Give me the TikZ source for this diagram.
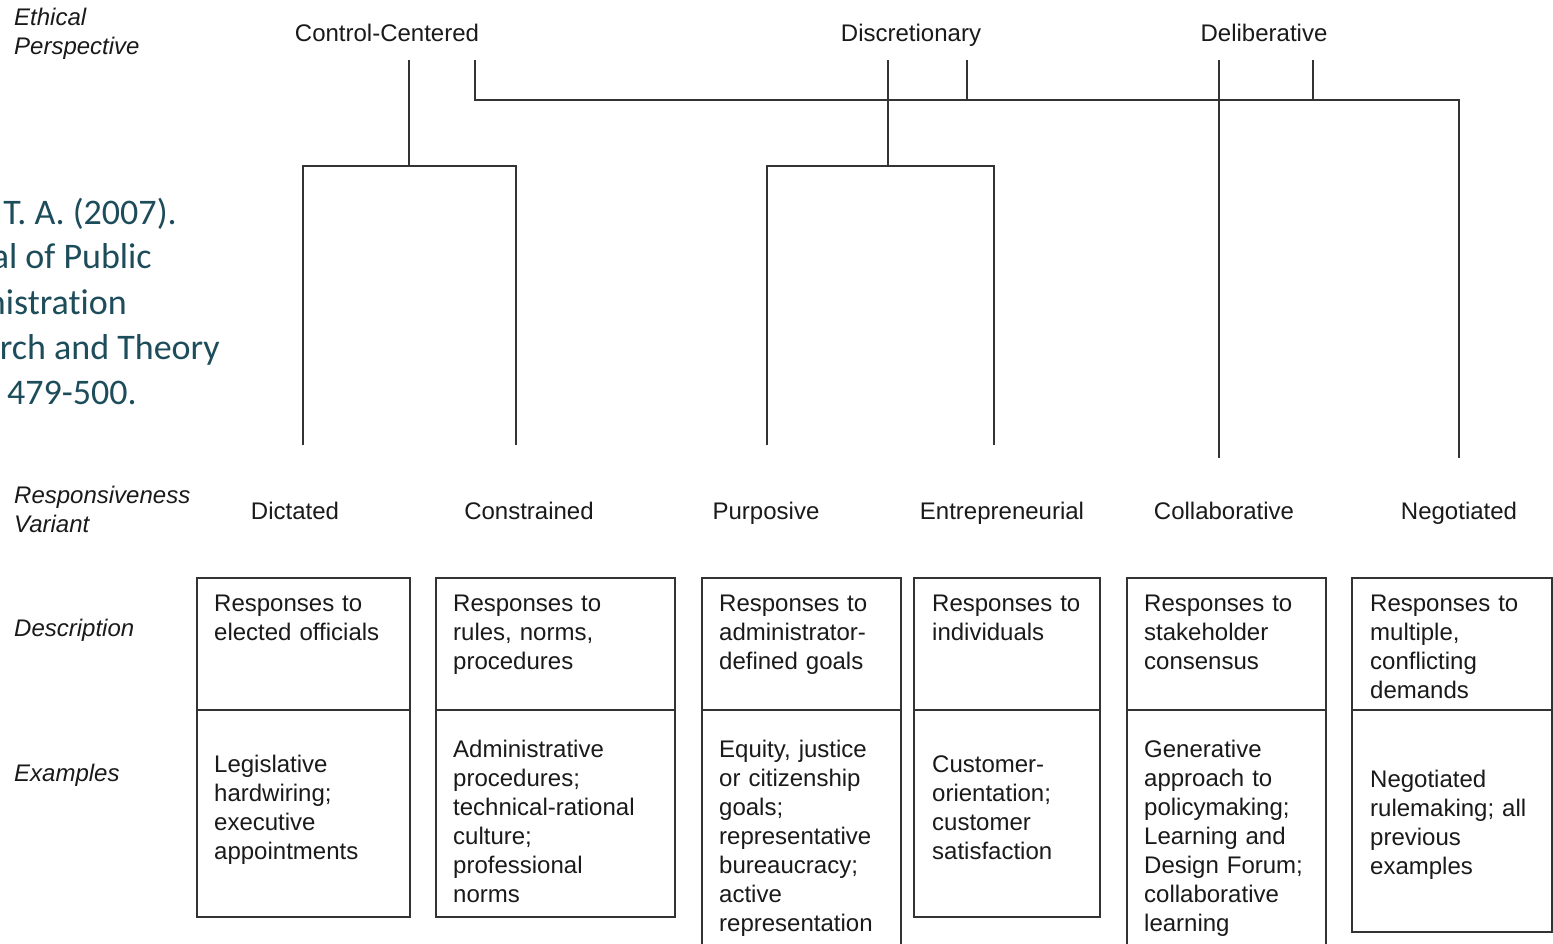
\documentclass[tikz,border=0pt]{standalone}
\usepackage{fontspec}
\setmainfont{Liberation Sans}
\newfontfamily\citefont[Ligatures=NoCommon]{Carlito}
\definecolor{teal1}{HTML}{1D4D5B}
\definecolor{ink}{HTML}{1A1A1A}
\definecolor{linec}{HTML}{333333}
\begin{document}
\begin{tikzpicture}[x=1pt,y=-1pt,
  lbl/.style={inner sep=0pt, font=\fontsize{24}{29}\selectfont, text=ink},
  rowlbl/.style={inner sep=0pt, font=\fontsize{24}{29}\selectfont\itshape, text=ink, anchor=base west, text width=220pt, align=left},
  var/.style={lbl, anchor=base},
  boxtxt/.style={lbl, anchor=base west, text width=200pt, align=left},
  citetxt/.style={inner sep=0pt, font=\citefont\fontsize{36}{45}\selectfont, text=teal1, anchor=base east},
  tree/.style={draw=linec, line width=1.4pt},
  cell/.style={draw=linec, line width=1.8pt}]
\useasboundingbox (0,0) rectangle (1553,944);
\clip (0,0) rectangle (1553,944);
\fill[white] (0,0) rectangle (1553,944);

% citation (clipped at left in the reference)
\node[citetxt] (c1) at (177,224.5) {T. A. (2007).};
\node[citetxt] (c2) at (152,269) {al of Public};
\node[citetxt] (c3) at (127,314) {nistration};
\node[citetxt] (c4) at (220,359) {rch and Theory};
\node[citetxt] (c5) at (137,404) {479-500.};

% row labels
\node[rowlbl] (rEth) at (14,26) {Ethical\\Perspective};
\node[rowlbl] (rVar) at (14,503) {Responsiveness\\Variant};
\node[rowlbl] (rDes) at (14,636) {Description};
\node[rowlbl] (rEx) at (14,781) {Examples};

% perspectives
\node[var] (pCC) at (387,42) {Control-Centered};
\node[var] (pDi) at (911,42) {Discretionary};
\node[var] (pDe) at (1264,42) {Deliberative};

% variants
\node[var] (vDic) at (295,519) {Dictated};
\node[var] (vCon) at (529,519) {Constrained};
\node[var] (vPur) at (766,519) {Purposive};
\node[var] (vEnt) at (1002,519) {Entrepreneurial};
\node[var] (vCol) at (1224,519) {Collaborative};
\node[var] (vNeg) at (1459,519) {Negotiated};

% tree coordinates
\coordinate (ccA) at (409,60);
\coordinate (ccAj) at (409,166);
\coordinate (ccL) at (303,166);
\coordinate (ccR) at (516,166);
\coordinate (ccLe) at (303,445);
\coordinate (ccRe) at (516,445);
\coordinate (ccB) at (475,60);
\coordinate (ccBj) at (475,100);
\coordinate (hR) at (1459,100);
\coordinate (negE) at (1459,458);
\coordinate (diA) at (888,60);
\coordinate (diAj) at (888,166);
\coordinate (diL) at (767,166);
\coordinate (diR) at (994,166);
\coordinate (diLe) at (767,445);
\coordinate (diRe) at (994,445);
\coordinate (diB) at (967,60);
\coordinate (diBj) at (967,100);
\coordinate (deA) at (1219,60);
\coordinate (colE) at (1219,458);
\coordinate (deB) at (1313,60);
\coordinate (deBj) at (1313,100);

\draw[tree] (ccA) -- (ccAj);
\draw[tree] (ccLe) -- (ccL) -- (ccR) -- (ccRe);
\draw[tree] (ccB) -- (ccBj) -- (hR) -- (negE);
\draw[tree] (diA) -- (diAj);
\draw[tree] (diLe) -- (diL) -- (diR) -- (diRe);
\draw[tree] (diB) -- (diBj);
\draw[tree] (deA) -- (colE);
\draw[tree] (deB) -- (deBj);

% boxes
\draw[cell] (197,578) rectangle (410,917);
\draw[cell] (197,710) -- (410,710);
\draw[cell] (436,578) rectangle (675,917);
\draw[cell] (436,710) -- (675,710);
\draw[cell] (702,960) -- (702,578) -- (901,578) -- (901,960);
\draw[cell] (702,710) -- (901,710);
\draw[cell] (914,578) rectangle (1100,917);
\draw[cell] (914,710) -- (1100,710);
\draw[cell] (1127,960) -- (1127,578) -- (1326,578) -- (1326,960);
\draw[cell] (1127,710) -- (1326,710);
\draw[cell] (1352,578) rectangle (1552,932);
\draw[cell] (1352,710) -- (1552,710);

% descriptions
\node[boxtxt] (d1) at (214,611) {Responses to\\elected officials};
\node[boxtxt] (d2) at (453,611) {Responses to\\rules, norms,\\procedures};
\node[boxtxt] (d3) at (719,611) {Responses to\\administrator-\\defined goals};
\node[boxtxt] (d4) at (932,611) {Responses to\\individuals};
\node[boxtxt] (d5) at (1144,611) {Responses to\\stakeholder\\consensus};
\node[boxtxt] (d6) at (1370,611) {Responses to\\multiple,\\conflicting\\demands};

% examples
\node[boxtxt] (e1) at (214,772) {Legislative\\hardwiring;\\executive\\appointments};
\node[boxtxt] (e2) at (453,757) {Administrative\\procedures;\\technical-rational\\culture;\\professional\\norms};
\node[boxtxt] (e3) at (719,757) {Equity, justice\\or citizenship\\goals;\\representative\\bureaucracy;\\active\\representation};
\node[boxtxt] (e4) at (932,772) {Customer-\\orientation;\\customer\\satisfaction};
\node[boxtxt] (e5) at (1144,757) {Generative\\approach to\\policymaking;\\Learning and\\Design Forum;\\collaborative\\learning};
\node[boxtxt] (e6) at (1370,787) {Negotiated\\rulemaking; all\\previous\\examples};
\end{tikzpicture}
\end{document}
